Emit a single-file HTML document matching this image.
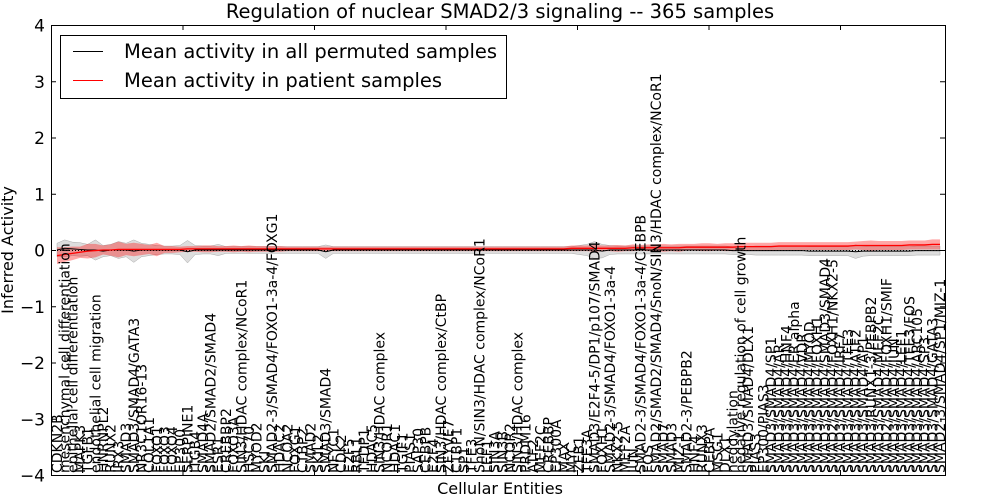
<!DOCTYPE html>
<html><head><meta charset="utf-8"><style>
body{margin:0;background:#fff;}
svg{display:block;font-family:"DejaVu Sans","Liberation Sans",sans-serif;}
</style></head><body>
<svg id="chart" width="1000" height="500">
<g id="bands"></g><g id="lines"></g><g id="labels"></g><g id="axes"></g>
</svg>
<script>
const labels=["CDKN2B","mesenchymal cell differentiation","epithelial cell differentiation","MAPK3","TGFB1","endothelial cell migration","HNRNPL2","RUNX2","IRX3","SMAD3","SMAD3/SMAD4/GATA3","NR3C1OR16-13","COL1A1","FOXO1","FOXO3","FOXO4","EP300","SERPINE1","ITGB4","SMAD4A","SMAD2/SMAD2/SMAD4","ESR1","CREBBP2","FOXO3A","SIN3/HDAC complex/NCoR1","HSC70","MYOD2","SKI","SMAD2-3/SMAD4/FOXO1-3a-4/FOXG1","HDAC2","NCOA2","FOXG1","CTBP2","SMAD2","SKIL2","SMAD3/SMAD4","NFYC1","CDK2","E2F5","RBL1","TFDP1","HDAC5","SIN3/HDAC complex","NCOR1","HDAC1","TGIF1","PIAS1","SAP30","CEBPB","E2F4","SIN3/HDAC complex/CtBP","ZFYVE7","CTBP1","SP1","TFE3","SnoN/SIN3/HDAC complex/NCoR1","LEF1","SIN3A","SIN3B","NCOR2","SIN3/HDAC complex","PRDM16","ATF2","MEF2C","CREBBP","EP300A","MAX","MYC","ZEB1","TFE3A","SMAD3/E2F4-5/DP1/p107/SMAD4","FOXH1","SMAD2-3/SMAD4/FOXO1-3a-4","NKX2-5","MEF2A","JUN","SMAD2-3/SMAD4/FOXO1-3a-4/CEBPB","FOS","SMAD2/SMAD2/SMAD4/SnoN/SIN3/HDAC complex/NCoR1","SMAD7","SMAD3","MIZ-1","SMAD2-3/PEBPB2","HNF4","RUNX3","CEBPA","MSG1","DLX1","neddylation","negative regulation of cell growth","SMAD3/SMAD4/DLX1","PIAS3","EP300/PIAS3","SMAD3/SMAD4/SP1","SMAD3/SMAD4/AR","SMAD3/SMAD4/HNF4","SMAD3/SMAD4/ER alpha","SMAD3/SMAD4/VDR","SMAD3/SMAD4/MYOD","SMAD3/SMAD4/FOXH1","SMAD3/SMAD4/SMAD3/SMAD4","SMAD2/SMAD4/FOXH1/NKX2-5","SMAD3/SMAD4/IRF7","SMAD3/SMAD4/TFE3","SMAD3/SMAD4/ATF2","SMAD3/SMAD4/AP1","SMAD3/RUNX1-3/PEBPB2","SMAD3/SMAD4/MEF2C","SMAD2/SMAD4/FOXH1/SMIF","SMAD3/SMAD4/JUN","SMAD3/SMAD4/LEF1","SMAD3/SMAD4/TFE3/FOS","SMAD3/SMAD4/ARC105","SMAD3/SMAD4/SP3","SMAD3/SMAD4/GATA3","SMAD2-3/SMAD4/SP1/MIZ-1"];
const patientMean=[-0.1,-0.08,-0.06,-0.04,-0.02,-0.01,0.0,0.0,0.01,0.01,
0.01,0.01,0.01,0.01,0.01,0.01,0.01,0.02,0.02,0.02,
0.02,0.02,0.02,0.02,0.02,0.02,0.02,0.02,0.02,0.02,
0.02,0.02,0.02,0.02,0.02,0.02,0.02,0.02,0.02,0.02,
0.02,0.02,0.02,0.02,0.02,0.02,0.02,0.02,0.02,0.02,
0.02,0.02,0.02,0.02,0.02,0.02,0.02,0.02,0.02,0.02,
0.02,0.02,0.02,0.02,0.02,0.02,0.02,0.03,0.03,0.03,
0.03,0.03,0.03,0.03,0.03,0.04,0.04,0.04,0.04,0.04,
0.04,0.04,0.05,0.05,0.05,0.05,0.05,0.05,0.05,0.06,
0.06,0.06,0.06,0.06,0.07,0.07,0.07,0.07,0.07,0.07,
0.07,0.07,0.07,0.07,0.08,0.08,0.08,0.08,0.08,0.08,
0.08,0.09,0.09,0.09,0.1,0.1];
const patientSpread=[0.15,0.13,0.12,0.1,0.13,0.12,0.08,0.1,0.14,0.1,
0.12,0.1,0.08,0.12,0.06,0.06,0.05,0.05,0.05,0.06,
0.06,0.05,0.05,0.06,0.05,0.06,0.05,0.05,0.05,0.05,
0.04,0.04,0.04,0.04,0.04,0.04,0.04,0.04,0.04,0.04,
0.04,0.04,0.04,0.04,0.04,0.04,0.04,0.04,0.04,0.04,
0.04,0.04,0.04,0.04,0.04,0.04,0.04,0.04,0.04,0.04,
0.04,0.04,0.04,0.04,0.04,0.04,0.04,0.05,0.05,0.05,
0.06,0.05,0.05,0.06,0.05,0.06,0.05,0.06,0.06,0.07,
0.06,0.07,0.06,0.06,0.07,0.07,0.06,0.07,0.07,0.07,
0.07,0.07,0.07,0.07,0.07,0.07,0.07,0.07,0.07,0.07,
0.07,0.07,0.07,0.07,0.07,0.08,0.09,0.08,0.08,0.08,
0.08,0.08,0.08,0.08,0.09,0.09];
const permMean=[0.0,0.03,0.02,0.01,0.0,0.0,-0.02,0.0,0.0,0.0,
-0.02,0.0,0.0,0.0,0.0,0.0,0.0,-0.03,0.0,0.0,
0.0,0.0,0.0,0.0,0.0,0.0,0.0,0.0,0.0,0.0,
0.0,0.0,0.0,0.0,0.0,-0.03,0.0,0.0,0.0,0.0,
0.0,0.0,0.0,0.0,0.0,0.0,0.0,0.0,0.0,0.0,
0.0,0.0,0.0,0.0,0.0,0.0,0.0,0.0,0.0,0.0,
0.0,0.0,0.0,0.0,0.0,0.0,0.0,0.0,0.0,0.0,
0.0,-0.02,0.0,0.0,0.0,0.0,0.0,0.0,0.0,0.0,
0.0,0.0,0.0,0.0,0.0,0.0,0.0,0.0,-0.01,-0.01,
-0.01,-0.01,-0.01,-0.01,-0.01,-0.01,-0.01,-0.01,-0.02,-0.02,
-0.02,-0.02,-0.02,-0.02,-0.03,-0.02,-0.02,-0.02,-0.02,-0.02,
-0.02,-0.02,-0.01,-0.01,-0.01,-0.01];
const permSpread=[0.12,0.15,0.12,0.12,0.1,0.18,0.1,0.1,0.15,0.12,
0.2,0.12,0.1,0.08,0.07,0.07,0.08,0.2,0.08,0.07,
0.07,0.1,0.06,0.06,0.06,0.06,0.06,0.06,0.06,0.06,
0.06,0.06,0.06,0.06,0.06,0.12,0.06,0.06,0.06,0.06,
0.06,0.06,0.06,0.06,0.06,0.06,0.06,0.06,0.06,0.06,
0.06,0.06,0.06,0.06,0.06,0.06,0.06,0.06,0.06,0.06,
0.06,0.06,0.06,0.06,0.06,0.06,0.06,0.06,0.08,0.1,
0.15,0.12,0.08,0.07,0.07,0.07,0.07,0.07,0.07,0.07,
0.07,0.07,0.07,0.07,0.07,0.07,0.07,0.07,0.07,0.07,
0.07,0.08,0.08,0.08,0.08,0.08,0.08,0.08,0.08,0.08,
0.08,0.08,0.08,0.08,0.12,0.09,0.08,0.08,0.08,0.08,
0.08,0.08,0.08,0.08,0.08,0.08];
const yTicks=[4,3,2,1,0,-1,-2,-3,-4];

const L=51,R=945,T=25,B=475,NS="http://www.w3.org/2000/svg";
const N=labels.length;
const xs=i=>57+i*(940-57)/(N-1);
const ys=v=>T+(4-v)*(B-T)/8;
function mk(tag,attrs,parent){const e=document.createElementNS(NS,tag);for(const k in attrs)e.setAttribute(k,attrs[k]);parent.appendChild(e);return e;}
const bands=document.getElementById('bands'),lines=document.getElementById('lines'),lab=document.getElementById('labels'),ax=document.getElementById('axes');
function bandPath(m,s){let up=[],dn=[];for(let i=0;i<N;i++){up.push(xs(i)+','+ys(m[i]+s[i]));dn.unshift(xs(i)+','+ys(m[i]-s[i]));}return 'M'+up.join('L')+'L'+dn.join('L')+'Z';}
let gb=mk('path',{d:bandPath(permMean,permSpread),fill:'#bbb','fill-opacity':0.5,stroke:'#aaa','stroke-width':0.5},bands);


let rb=mk('path',{d:bandPath(patientMean,patientSpread),fill:'#f00','fill-opacity':0.35,stroke:'none'},bands);


let zl=mk('line',{x1:L,x2:R,y1:ys(0)+0.5,y2:ys(0)+0.5,stroke:'#000','stroke-dasharray':'1,2','stroke-width':1},lines);


let pl=mk('polyline',{points:permMean.map((v,i)=>xs(i)+','+ys(v)).join(' '),fill:'none',stroke:'#000','stroke-width':1},lines);


let rl=mk('polyline',{points:patientMean.map((v,i)=>xs(i)+','+ys(v)).join(' '),fill:'none',stroke:'#f00','stroke-width':1.3},lines);


labels.forEach((t,i)=>{const x=xs(i)+5;const e=mk('text',{x:0,y:0,transform:`translate(${x},473) rotate(-90)`,'font-size':14,fill:'#000'},lab);e.textContent=t;

});
let fr=mk('rect',{x:L+0.5,y:T+0.5,width:R-L,height:B-T,fill:'none',stroke:'#000','stroke-width':1},ax);


yTicks.forEach(v=>{const y=ys(v)+0.5;mk('line',{x1:L,x2:L+5,y1:y,y2:y,stroke:'#000'},ax);mk('line',{x1:R-5,x2:R,y1:y,y2:y,stroke:'#000'},ax);
const t=mk('text',{x:L-6,y:y+6,'text-anchor':'end','font-size':17},ax);t.textContent=v<0?'\u2212'+(-v):v;

});
for(let k=0;k<7;k++){const x=L+k*131.5+0.5;mk('line',{x1:x,x2:x,y1:T,y2:T+5,stroke:'#000'},ax);mk('line',{x1:x,x2:x,y1:B-5,y2:B,stroke:'#000'},ax);}
</script>
<svg width="1000" height="500" style="position:absolute;left:0;top:0">
<text x="500" y="18" text-anchor="middle" font-size="19.5" font-family="DejaVu Sans,Liberation Sans,sans-serif">Regulation of nuclear SMAD2/3 signaling -- 365 samples</text>
<text transform="translate(13,250) rotate(-90)" text-anchor="middle" font-size="16" font-family="DejaVu Sans,Liberation Sans,sans-serif">Inferred Activity</text>
<text x="500" y="494" text-anchor="middle" font-size="16" font-family="DejaVu Sans,Liberation Sans,sans-serif">Cellular Entities</text>
<g>
<rect x="60.5" y="35.5" width="446" height="63" fill="#fff" stroke="#000"/>
<line x1="73" x2="103" y1="51.5" y2="51.5" stroke="#000"/>
<text x="124" y="58" font-size="19.5" font-family="DejaVu Sans,Liberation Sans,sans-serif">Mean activity in all permuted samples</text>
<line x1="73" x2="103" y1="80.5" y2="80.5" stroke="#f00"/>
<text x="124" y="87" font-size="19.5" font-family="DejaVu Sans,Liberation Sans,sans-serif">Mean activity in patient samples</text>
</g>
</svg>
</body></html>
